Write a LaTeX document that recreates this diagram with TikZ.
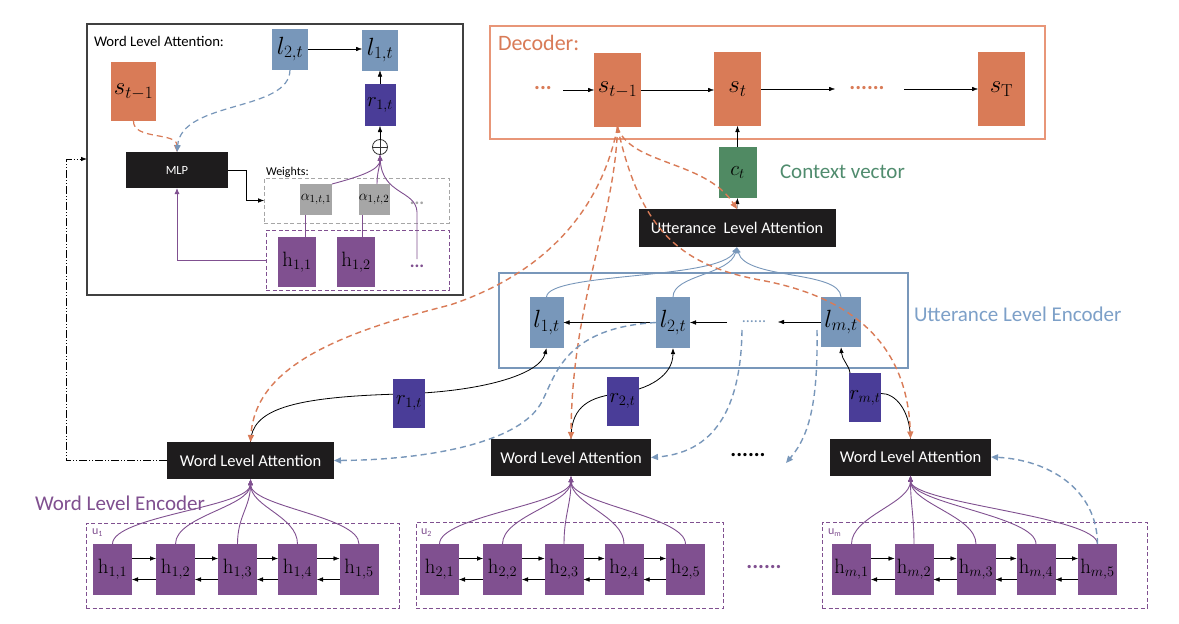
\documentclass[tikz,border=0pt]{standalone}
\usepackage[no-math]{fontspec}
\setmainfont{Carlito}
\usetikzlibrary{arrows.meta,calc}
\definecolor{oran}{RGB}{217,123,87}
\definecolor{oranl}{RGB}{232,150,120}
\definecolor{lblu}{RGB}{120,151,186}
\definecolor{lblut}{RGB}{125,160,200}
\definecolor{rpur}{RGB}{74,61,152}
\definecolor{hpur}{RGB}{128,80,144}
\definecolor{gre}{RGB}{80,138,99}
\definecolor{gret}{RGB}{80,140,110}
\definecolor{agray}{RGB}{166,166,166}
\definecolor{blk}{RGB}{30,28,29}
\begin{document}
\begin{tikzpicture}[x=1pt,y=-1pt,
  every node/.style={inner sep=0pt,outer sep=0pt},
  arr/.style={-{Latex[length=6pt,width=4.5pt]}},
  hb/.style={fill=hpur,minimum width=39pt,minimum height=51pt,font=\fontsize{21}{22}\selectfont},
  lb/.style={fill=lblu,minimum width=34pt,minimum height=51pt,font=\fontsize{25}{26}\selectfont},
  rb/.style={fill=rpur,minimum width=32pt,minimum height=49pt,font=\fontsize{21}{22}\selectfont},
  sb/.style={fill=oran,minimum width=47pt,minimum height=74pt,font=\fontsize{24}{26}\selectfont},
  wla/.style={fill=blk,minimum width=161pt,minimum height=37pt,text=white,font=\fontsize{16.5}{18}\selectfont},
  frm/.style={draw=hpur,line width=0.8pt,dash pattern=on 4pt off 2.5pt},
  pl/.style={draw=hpur,line width=0.9pt},
  pa/.style={pl,-{Latex[length=6pt,width=5pt]}},
  ol/.style={draw=oran,line width=1.4pt,dash pattern=on 6pt off 4pt,-{Triangle[length=7pt,width=6pt]}},
  bl/.style={draw=lblu,line width=1.4pt,dash pattern=on 6pt off 4pt,-{Triangle[length=7pt,width=6pt]}},
  kl/.style={draw=black,line width=0.8pt},
  dots/.style={font=\fontsize{#1}{#1}\selectfont\bfseries},
]
\useasboundingbox (0,0) rectangle (1179,624);
\fill[white] (0,0) rectangle (1179,624);

% ---------- frames ----------
\node[draw=black!75,line width=1.2pt,minimum width=376pt,minimum height=271pt] (inset) at (275,159.5) {};
\node[draw=oranl,line width=1.2pt,minimum width=555pt,minimum height=113pt] (dec) at (767.5,82.5) {};
\node[draw=lblu,line width=2pt,minimum width=409pt,minimum height=95pt] (uenc) at (703.5,320.5) {};
\node[frm,minimum width=313pt,minimum height=85pt] (u1) at (242.5,565.5) {};
\node[frm,minimum width=307pt,minimum height=86pt] (u2) at (569.5,565) {};
\node[frm,minimum width=325pt,minimum height=86pt] (um) at (984.5,565) {};

% ---------- inset ----------
\node[anchor=west,font=\fontsize{14.7}{16}\selectfont] (iwla) at (94,41) {Word Level Attention:};
\node[sb,minimum width=45pt,minimum height=59pt] (is) at (133.5,91.5) {$s_{t-1}$};
\node[lb,minimum width=36pt,minimum height=41pt,font=\fontsize{23}{24}\selectfont] (il2) at (290,49) {$l_{2,t}$};
\node[lb,minimum width=36pt,minimum height=41pt,font=\fontsize{23}{24}\selectfont] (il1) at (380,50) {$l_{1,t}$};
\node[rb,minimum width=31pt,minimum height=42pt] (ir1) at (380,105) {$r_{1,t}$};
\node[circle,draw=black!80,line width=0.8pt,minimum size=15pt] (op) at (380,147) {};
\draw[black!80,line width=0.8pt] (op.north) -- (op.south) (op.west) -- (op.east);
\node[fill=blk,minimum width=102pt,minimum height=36pt,text=white,font=\fontsize{12.5}{14}\selectfont] (mlp) at (177,170) {MLP};
\node[anchor=west,font=\fontsize{12}{14}\selectfont] (wlab) at (266,172) {Weights:};
\node[draw=agray,dash pattern=on 4pt off 2.5pt,line width=0.8pt,minimum width=185pt,minimum height=45pt] (wbox) at (356.5,200.5) {};
\node[frm,minimum width=183pt,minimum height=60pt] (ihbox) at (357.5,260) {};
\node[fill=agray,minimum width=32pt,minimum height=31pt,font=\fontsize{15}{16}\selectfont] (a1) at (316,199.5) {$\alpha_{1,t,1}$};
\node[fill=agray,minimum width=31pt,minimum height=31pt,font=\fontsize{15}{16}\selectfont] (a2) at (374,199.5) {$\alpha_{1,t,2}$};
\node[text=agray,dots=18] (adots) at (417,203) {...};
\node[hb,minimum width=38pt,minimum height=50pt] (ih1) at (297,262) {$\mathrm{h}_{1,1}$};
\node[hb,minimum width=38pt,minimum height=50pt] (ih2) at (356,262) {$\mathrm{h}_{1,2}$};
\node[text=hpur,dots=18] (hdots) at (417,266) {...};
\coordinate (hdl) at (417,259);

\draw[arr] (il2.east) -- (il2.east -| il1.west);
\draw[arr] (ir1.north) -- (il1.south);
\draw[arr] (op.north) -- (ir1.south);
\draw[arr] (mlp.east) -- ++(18,0) |- (wbox.west);
\draw[pa] (ihbox.west) -| (mlp.south);
\draw[pl] ([xshift=8pt]ih1.north) -- ([xshift=-11pt]a1.south);
\draw[pl] ([xshift=6pt]ih2.north) -- ([xshift=-12pt]a2.south);
\draw[pa] (a1.north east) .. controls +(30,-8) and +(0,15) .. (op.south);
\draw[pa] ([xshift=3pt]a2.north) .. controls +(0,-12) and +(0,12) .. (op.south);
\draw[pa] (hdl) -- (417,212) .. controls (416,190) and (382,195) .. (op.south);
\draw[ol,line width=1.2pt] (is.south) .. controls (133,140) and (177,132) .. (mlp.north);
\draw[bl,line width=1.2pt] (il2.south) .. controls (290,112) and (182,100) .. (mlp.north);

% ---------- decoder ----------
\node[anchor=west,text=oran,font=\fontsize{22}{24}\selectfont] (declab) at (498,43) {Decoder:};
\node[sb] (st1) at (617.5,90) {$s_{t-1}$};
\node[sb] (st) at (737.5,89) {$s_t$};
\node[sb] (sT) at (1001.5,89) {$s_{\mathrm{T}}$};
\node[text=oran,dots=22] (dd1) at (543,88) {...};
\node[text=oran,dots=22] (dd2) at (867,88) {......};
\coordinate (da) at (563,90);
\coordinate (db) at (835,89);
\coordinate (dc) at (904,89);
\draw[arr] (da) -- (st1.west);
\draw[arr] (st1.east) -- (st1.east -| st.west);
\draw[arr] (st.east) -- (db);
\draw[arr] (dc) -- (sT.west);
\node[fill=gre,minimum width=38pt,minimum height=51pt,font=\fontsize{22}{24}\selectfont] (ct) at (737.5,172.5) {$c_t$};
\node[anchor=west,text=gret,font=\fontsize{21}{24}\selectfont] (ctlab) at (780,172) {Context vector};
\node[wla,minimum width=197pt,minimum height=38pt,font=\fontsize{16.3}{18}\selectfont] (ula) at (737,228) {Utterance\ \ Level Attention};
\draw[arr] (ct.north) -- (st.south);
\draw[arr] (ula.north) -- (ct.south);

% ---------- utterance encoder ----------
\node[anchor=west,text=lblut,font=\fontsize{21}{24}\selectfont] (uelab) at (914,314) {Utterance Level Encoder};
\node[lb] (l1) at (546.5,322.5) {$l_{1,t}$};
\node[lb] (l2) at (673,322.5) {$l_{2,t}$};
\node[lb,minimum width=40pt,minimum height=50pt] (lm) at (841,322) {$l_{m,t}$};
\node[text=lblu,font=\fontsize{16}{16}\selectfont] (ldots) at (754,322) {......};
\coordinate (le1) at (727,322.5);
\coordinate (le2) at (778,322);
\draw[arr] (l2.west) -- (l1.east);
\draw[arr] (le1) -- (l2.east);
\draw[arr] (lm.west) -- (le2);
\draw[draw=lblu,line width=0.9pt,-{Latex[length=6pt,width=5pt]}] (l1.north) .. controls (548,272) and (720,280) .. (ula.south);
\draw[draw=lblu,line width=0.9pt,-{Latex[length=6pt,width=5pt]}] (l2.north) .. controls (673,275) and (730,275) .. (ula.south);
\draw[draw=lblu,line width=0.9pt,-{Latex[length=6pt,width=5pt]}] (lm.north) .. controls (840,270) and (745,280) .. (ula.south);

% ---------- word level attention boxes ----------
\node[wla,minimum width=167pt] (w1) at (250.5,460.5) {Word Level Attention};
\node[wla,minimum width=160pt] (w2) at (571,457.5) {Word Level Attention};
\node[wla] (w3) at (910.5,457) {Word Level Attention};
\node[dots=22] (wdots) at (748,455) {......};

% black curves through r boxes
\draw[kl,arr] (w1.north) .. controls (252,410) and (290,397) .. (400,394) .. controls (480,392) and (540,375) .. (l1.south);
\draw[kl,arr] (w2.north) .. controls (571,410) and (585,398) .. (615,394) .. controls (650,390) and (673,375) .. (l2.south);
\node[rb] (r1) at (409,403) {$r_{1,t}$};
\node[rb] (r2) at (622.5,401) {$r_{2,t}$};
\node[rb] (rm) at (865,397.5) {$r_{m,t}$};
\draw[kl,arr] ([xshift=1pt]rm.north west) .. controls (849,365) and (842,360) .. (lm.south);
\draw[kl] ([yshift=4pt]rm.east) .. controls (895,393) and (910,410) .. (w3.north);

% ---------- word level encoder ----------
\node[anchor=west,text=hpur,font=\fontsize{21}{24}\selectfont] (welab) at (35,503) {Word Level Encoder};
\node[anchor=west,text=hpur,font=\fontsize{12}{14}\selectfont] (u1l) at (92,533) {u\textsubscript{1}};
\node[anchor=west,text=hpur,font=\fontsize{12}{14}\selectfont] (u2l) at (421,533) {u\textsubscript{2}};
\node[anchor=west,text=hpur,font=\fontsize{12}{14}\selectfont] (uml) at (828,533) {u\textsubscript{m}};
\foreach \j/\x in {1/112.5,2/175.5,3/237.5,4/297.5,5/359}
  \node[hb] (h1\j) at (\x,569.5) {$\mathrm{h}_{1,\j}$};
\foreach \j/\x in {1/439.5,2/502.5,3/564,4/624,5/685.5}
  \node[hb] (h2\j) at (\x,569.5) {$\mathrm{h}_{2,\j}$};
\foreach \j/\x in {1/851.5,2/914,3/976,4/1036,5/1097.5}
  \node[hb] (hm\j) at (\x,569.5) {$\mathrm{h}_{m,\j}$};
\node[text=hpur,dots=22] (pdots) at (764,567) {......};
\foreach \u in {1,2,m}{
  \foreach \a/\b in {1/2,2/3,3/4,4/5}{
    \draw[arr] ([yshift=11pt]h\u\a.east) -- ([yshift=11pt]h\u\b.west);
    \draw[arr] ([yshift=-10pt]h\u\b.west) -- ([yshift=-10pt]h\u\a.east);
  }
}
\foreach \u/\w in {1/w1,2/w2,m/w3}{
  \foreach \j in {1,...,5}{
    \draw[pa] (h\u\j.north) .. controls +(0,-28) and +(0,28) .. (\w.south);
  }
}

% ---------- dashed attention inputs ----------
\draw[ol] (st1.south) .. controls (600,215) and (540,275) .. (450,305) .. controls (330,335) and (255,370) .. (w1.north);
\draw[ol] (st1.south) .. controls (615,220) and (572,300) .. (w2.north);
\draw[ol] (st1.south) .. controls (640,230) and (680,265) .. (760,280) .. controls (870,300) and (908,360) .. (w3.north);
\draw[ol] (st1.south) .. controls (630,165) and (705,160) .. (ula.north);
\coordinate (bd1) at (742,330);
\coordinate (bd2) at (817,330);
\coordinate (bd3) at (786,463);
\draw[bl] (l2.west) .. controls (560,328) and (555,380) .. (540,405) .. controls (515,445) and (420,460) .. (w1.east);
\draw[bl] (bd1) .. controls (741,400) and (720,452) .. (w2.east);
\draw[bl] (bd2) .. controls (818,400) and (810,435) .. (bd3);
\draw[bl] (hm5.north) .. controls (1097,490) and (1050,460) .. (w3.east);

% ---------- dash-dot feedback ----------
\coordinate (ddc) at (66,159);
\draw[line width=0.8pt,dash pattern=on 8pt off 2pt on 1pt off 2pt on 1pt off 2pt,arr] (w1.west) -| (ddc) -- (inset.west |- ddc);
\end{tikzpicture}
\end{document}
